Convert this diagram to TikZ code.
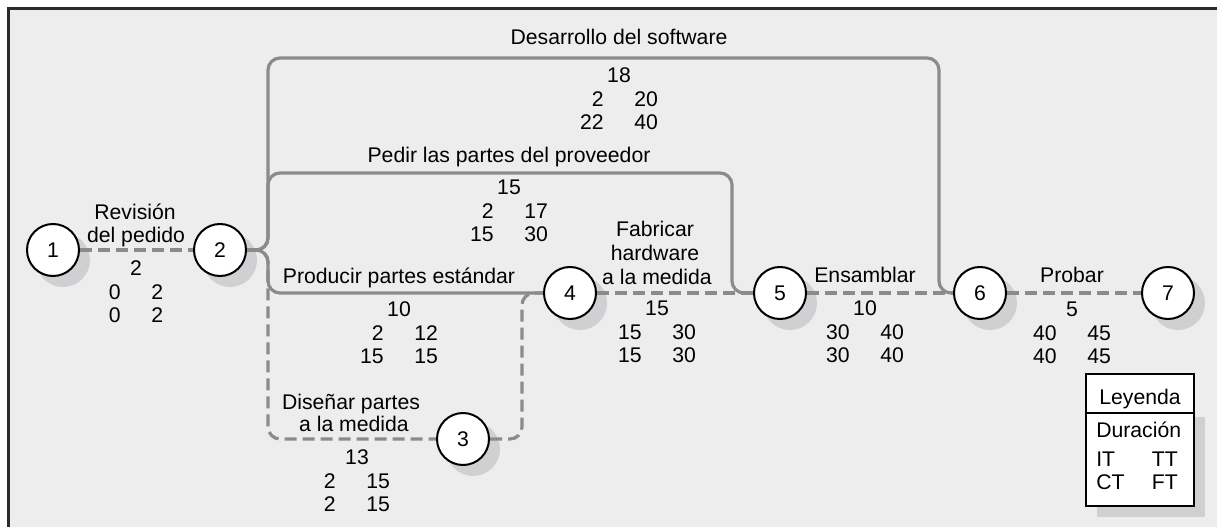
\documentclass[tikz,border=0pt]{standalone}
\usepackage{fontspec}
\setmainfont{Liberation Sans}
\usetikzlibrary{calc,backgrounds}
\definecolor{bgc}{HTML}{EDEDED}
\definecolor{shadowc}{HTML}{D0D0D2}
\definecolor{lineg}{HTML}{8A8B8D}
\definecolor{framec}{HTML}{2B2B2B}
\newcommand{\pertdata}[5]{\begin{tabular}[t]{@{}r@{\hspace{23pt}}l@{}}\multicolumn{2}{@{}c@{}}{#1}\\#2&#3\\#4&#5\end{tabular}}
\begin{document}
\begin{tikzpicture}[x=0.75pt,y=-0.75pt,
  every node/.style={font=\fontsize{15.9}{17.7}\selectfont},
  evt/.style={circle,draw=black,line width=1.5pt,fill=white,minimum size=39pt,inner sep=0pt},
  crit/.style={draw=lineg,line width=2.4pt,dash pattern=on 9pt off 4.5pt},
  act/.style={draw=lineg,line width=2.4pt},
  txt/.style={inner sep=0pt,anchor=base},
  ]
\useasboundingbox (0,0) rectangle (1217,527);
% events
\node[evt] (n1) at (53,250) {1};
\node[evt] (n2) at (220,250) {2};
\node[evt] (n3) at (463,439) {3};
\node[evt] (n4) at (570,293) {4};
\node[evt] (n5) at (780,293) {5};
\node[evt] (n6) at (980,293) {6};
\node[evt] (n7) at (1168,293) {7};
\begin{pgfonlayer}{background}
\fill[white] (0,0) rectangle (1217,527);
\fill[bgc] (8.5,8.5) rectangle (1217,527);
\draw[framec,line width=2.25pt] (8.5,527) -- (8.5,8.5) -- (1217,8.5);
\foreach \k in {1,...,7} \fill[shadowc] ($(n\k)+(10,10)$) circle[radius=20.25pt];
\fill[shadowc] (1097,417) rectangle (1205,517);
% critical (dashed) activities
\draw[crit] (n1.east) -- (n2.west);
\draw[crit,rounded corners=9pt] (n2.east) -| (268,439) -- (n3.west);
\draw[crit,rounded corners=9pt] (n3.east) -| (522,293) -- (n4.west);
\draw[crit] (n4.east) -- (n5.west);
\draw[crit] (n5.east) -- (n6.west);
\draw[crit] (n6.east) -- (n7.west);
% non-critical activities
\draw[act,rounded corners=9pt] (n2.east) -| (268,293) -- (n4.west);
\draw[act,rounded corners=9pt] (n2.east) -| (268,173) -| (732,293) -- (n5.west);
\draw[act,rounded corners=9pt] (n2.east) -| (268,58) -| (939,293) -- (n6.west);
\end{pgfonlayer}
% activity labels
\node[txt] (lrev1) at (135,220) {Revisión};
\node[txt] (lrev2) at (136,243) {del pedido};
\node[txt] (lsoft) at (619,45) {Desarrollo del software};
\node[txt] (lped) at (509,163) {Pedir las partes del proveedor};
\node[txt] (lprod) at (399,284) {Producir partes estándar};
\node[txt] (ldis1) at (351,409) {Diseñar partes};
\node[txt] (ldis2) at (354,431) {a la medida};
\node[txt] (lfab1) at (655,237) {Fabricar};
\node[txt] (lfab2) at (655,261) {hardware};
\node[txt] (lfab3) at (657,285) {a la medida};
\node[txt] (lens) at (865,283) {Ensamblar};
\node[txt] (lpro) at (1072,283) {Probar};
% data blocks
\node[txt] (drev) at (136,275.5) {\pertdata{2}{0}{2}{0}{2}};
\node[txt] (dsoft) at (619,82.5) {\pertdata{18}{2}{20}{22}{40}};
\node[txt] (dped) at (509,194.5) {\pertdata{15}{2}{17}{15}{30}};
\node[txt] (dprod) at (399,316.5) {\pertdata{10}{2}{12}{15}{15}};
\node[txt] (ddis) at (357,464.5) {\pertdata{13}{2}{15}{2}{15}};
\node[txt] (dfab) at (657,315.5) {\pertdata{15}{15}{30}{15}{30}};
\node[txt] (dens) at (865,315.5) {\pertdata{10}{30}{40}{30}{40}};
\node[txt] (dpro) at (1072,316.5) {\pertdata{5}{40}{45}{40}{45}};
% legend
\draw[black,line width=1.5pt,fill=white] (1086,374) rectangle (1194,506);
\draw[black,line width=1.5pt] (1086,413) -- (1194,413);
\node[txt] (leg) at (1140,404) {Leyenda};
\node[txt,anchor=base west] (legdur) at (1096,437) {Duración};
\node[txt,anchor=base west] (legit) at (1096,466) {IT};
\node[txt,anchor=base east] (legtt) at (1178,466) {TT};
\node[txt,anchor=base west] (legct) at (1096,489) {CT};
\node[txt,anchor=base east] (legft) at (1178,489) {FT};
\end{tikzpicture}
\end{document}
